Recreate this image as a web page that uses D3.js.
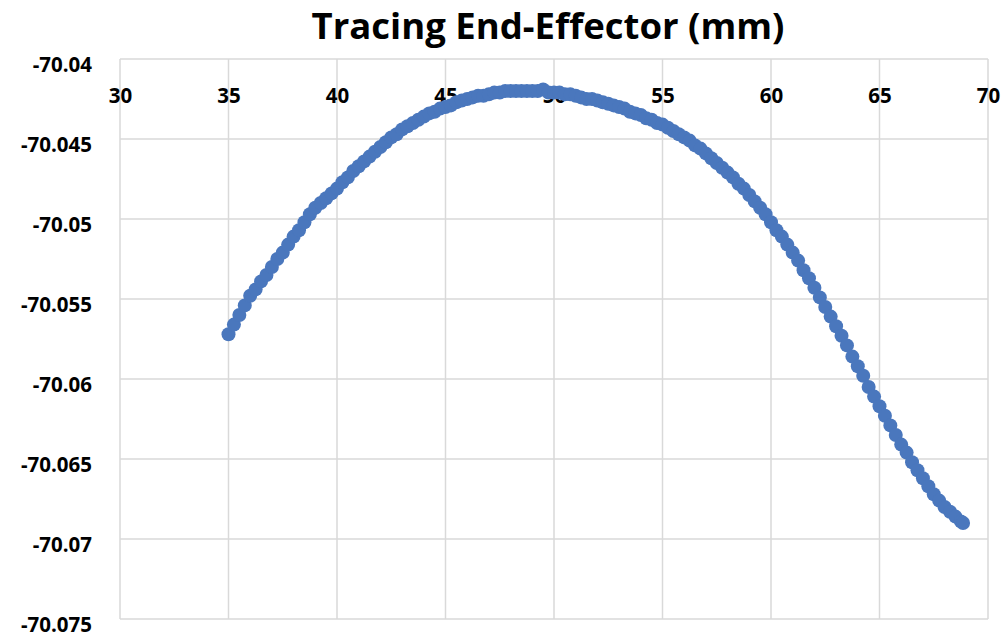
<!DOCTYPE html>
<html>
<head>
<meta charset="utf-8">
<script src="https://cdn.jsdelivr.net/npm/d3@7"></script>
<style>
  body { margin: 0; background: #fff; }
  svg { display: block; font-family: "Open Sans", "Liberation Sans", sans-serif; }
</style>
</head>
<body>
<svg id="chart"></svg>
<script>
var width = 1007, height = 638;

// data
var chartTitle = "Tracing End-Effector (mm)";
var xTicks = [30, 35, 40, 45, 50, 55, 60, 65, 70];
var yTicks = [-70.04, -70.045, -70.05, -70.055, -70.06, -70.065, -70.07, -70.075];

var traceX = [35.00,35.25,35.50,35.75,36.00,36.25,36.50,36.75,37.00,37.25,37.50,37.75,
  38.00,38.25,38.50,38.75,39.00,39.25,39.50,39.75,40.00,40.25,40.50,40.75,
  41.00,41.25,41.50,41.75,42.00,42.25,42.50,42.75,43.00,43.25,43.50,43.75,
  44.00,44.25,44.50,44.75,45.00,45.25,45.50,45.75,46.00,46.25,46.50,46.75,
  47.00,47.25,47.50,47.75,48.00,48.25,48.50,48.75,49.00,49.25,49.50,49.75,
  50.00,50.25,50.50,50.75,51.00,51.25,51.50,51.75,52.00,52.25,52.50,52.75,
  53.00,53.25,53.50,53.75,54.00,54.25,54.50,54.75,55.00,55.25,55.50,55.75,
  56.00,56.25,56.50,56.75,57.00,57.25,57.50,57.75,58.00,58.25,58.50,58.75,
  59.00,59.25,59.50,59.75,60.00,60.25,60.50,60.75,61.00,61.25,61.50,61.75,
  62.00,62.25,62.50,62.75,63.00,63.25,63.50,63.75,64.00,64.25,64.50,64.75,
  65.00,65.25,65.50,65.75,66.00,66.25,66.50,66.75,67.00,67.25,67.50,67.75,
  68.00,68.25,68.50,68.75,68.85];

var traceY = [-70.0572,-70.0566,-70.0560,-70.0554,-70.0548,-70.0544,-70.0539,-70.0535,-70.0530,-70.0525,-70.0521,-70.0516,
  -70.0511,-70.0507,-70.0502,-70.0497,-70.0493,-70.0490,-70.0487,-70.0484,-70.0481,-70.0477,-70.0474,-70.0470,
  -70.0467,-70.0464,-70.0461,-70.0458,-70.0455,-70.0452,-70.0449,-70.0447,-70.0444,-70.0442,-70.0440,-70.0438,
  -70.0436,-70.0434,-70.0433,-70.0431,-70.0430,-70.0429,-70.0427,-70.0426,-70.0425,-70.0424,-70.0423,-70.0423,
  -70.0422,-70.0421,-70.0421,-70.0420,-70.0420,-70.0420,-70.0420,-70.0420,-70.0420,-70.0420,-70.0419,-70.0421,
  -70.0421,-70.0421,-70.0422,-70.0422,-70.0423,-70.0424,-70.0425,-70.0425,-70.0426,-70.0427,-70.0428,-70.0429,
  -70.0430,-70.0431,-70.0433,-70.0434,-70.0435,-70.0437,-70.0438,-70.0440,-70.0441,-70.0443,-70.0445,-70.0447,
  -70.0449,-70.0451,-70.0454,-70.0456,-70.0459,-70.0462,-70.0465,-70.0468,-70.0471,-70.0474,-70.0478,-70.0481,
  -70.0485,-70.0489,-70.0493,-70.0497,-70.0502,-70.0507,-70.0511,-70.0516,-70.0521,-70.0526,-70.0532,-70.0537,
  -70.0543,-70.0549,-70.0555,-70.0561,-70.0567,-70.0573,-70.0579,-70.0586,-70.0592,-70.0598,-70.0605,-70.0611,
  -70.0617,-70.0623,-70.0629,-70.0635,-70.0641,-70.0646,-70.0652,-70.0657,-70.0662,-70.0667,-70.0672,-70.0676,
  -70.0680,-70.0683,-70.0686,-70.0689,-70.0690];

var points = traceX.map((x, i) => ({x: x, y: traceY[i]}));

var margin = {top: 59, right: 19, bottom: 19, left: 120};
var fontFam = '"Open Sans", "Liberation Sans", sans-serif';

const svg = d3.select('svg#chart')
  .attr('width', width)
  .attr('height', height);

var x = d3.scaleLinear()
  .domain([30, 70])
  .range([margin.left, width - margin.right]);

var y = d3.scaleLinear()
  .domain([-70.04, -70.075])
  .range([margin.top, height - margin.bottom]);

// gridlines
const grid = svg.append("g").attr("id", "grid");

grid.selectAll(".gridH")
  .data(yTicks)
  .enter().append("line")
    .attr("class", "gridH")
    .attr("x1", x(30))
    .attr("x2", x(70))
    .attr("y1", d => y(d))
    .attr("y2", d => y(d))
    .style("stroke", "#d9d9d9")
    .style("stroke-width", 1.5);

grid.selectAll(".gridV")
  .data(xTicks)
  .enter().append("line")
    .attr("class", "gridV")
    .attr("x1", d => x(d))
    .attr("x2", d => x(d))
    .attr("y1", y(-70.04))
    .attr("y2", y(-70.075))
    .style("stroke", "#d9d9d9")
    .style("stroke-width", 1.5);

// x axis sits on the top (y = -70.04)
const xAxis = svg.append("g")
  .attr("transform", "translate(0," + y(-70.04) + ")")
  .call(d3.axisBottom(x).tickValues(xTicks).tickSize(0).tickPadding(29).tickFormat(d => String(d)));

xAxis.select(".domain").remove();
xAxis.selectAll("text")
  .style("font-family", fontFam)
  .style("font-size", "20.5px")
  .style("font-weight", "bold")
  .style("fill", "#000");

const yAxis = svg.append("g")
  .attr("transform", "translate(" + x(30) + ",0)")
  .call(d3.axisLeft(y).tickValues(yTicks).tickSize(0).tickPadding(28).tickFormat(d => String(+d.toFixed(3))));

yAxis.select(".domain").remove();
yAxis.selectAll("text")
  .attr("dy", "0.6em")
  .style("font-family", fontFam)
  .style("font-size", "20.5px")
  .style("font-weight", "bold")
  .style("fill", "#000");

// points
svg.append("g")
  .attr("id", "dots")
  .selectAll(".dot")
  .data(points)
  .enter().append("circle")
    .attr("class", "dot")
    .attr("cx", d => x(d.x))
    .attr("cy", d => y(d.y))
    .attr("r", 7)
    .style("fill", "#4a77bd");

// title
svg.append("text")
  .attr("x", 548)
  .attr("y", 39)
  .attr("text-anchor", "middle")
  .style("font-family", fontFam)
  .style("font-size", "36.5px")
  .style("font-weight", "bold")
  .text(chartTitle);
</script>
</body>
</html>
